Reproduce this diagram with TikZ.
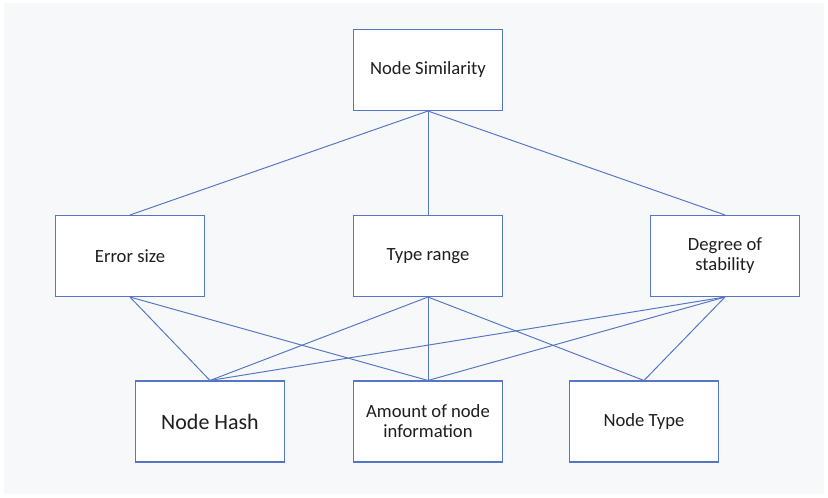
\documentclass[tikz,border=0pt]{standalone}
\usepackage{fontspec}
\setmainfont{Carlito}
\usepackage{tikz}
\usetikzlibrary{positioning}

\definecolor{boxblue}{RGB}{84,118,196}
\definecolor{paper}{RGB}{247,248,250}
\definecolor{inkgrey}{RGB}{30,30,30}

\tikzset{
  crit/.style={draw=boxblue, line width=0.6pt, fill=white, text=inkgrey,
    minimum width=2.98cm, minimum height=1.62cm, inner sep=0pt,
    align=center, font=\fontsize{10.6}{11.4}\selectfont},
  link/.style={draw=boxblue, line width=0.55pt}
}

\begin{document}
\begin{tikzpicture}[node distance=3cm,on grid]
   % page
   \fill[white] (-8.56,1.4) rectangle (8.0,-8.56);
   \fill[paper] (-8.48,1.34) rectangle (7.92,-8.48);
   \useasboundingbox (-8.56,1.4) rectangle (8.0,-8.56);

   \node[crit] (sim) at (0,0) {Node Similarity};
   \node[crit] (range) [below=3.72cm of sim] {Type range};
   \node[crit] (err) [left=5.96cm of range] {Error size};
   \node[crit] (stab) [right=5.94cm of range] {Degree of\\stability};
   \node[crit] (amount) [below=3.31cm of range] {Amount of node\\information};
   \node[crit, font=\fontsize{12.5}{14}\selectfont] (hash) [left=4.36cm of amount] {Node Hash};
   \node[crit] (ntype) [right=4.32cm of amount] {Node Type};

   \path[link]
    (sim.south) edge (err.north)
                edge (range.north)
                edge (stab.north)
    (err.south) edge (hash.north)
                edge (amount.north)
    (range.south) edge (hash.north)
                  edge (amount.north)
                  edge (ntype.north)
    (stab.south) edge (hash.north)
                 edge (amount.north)
                 edge (ntype.north)
      ;
\end{tikzpicture}
\end{document}
